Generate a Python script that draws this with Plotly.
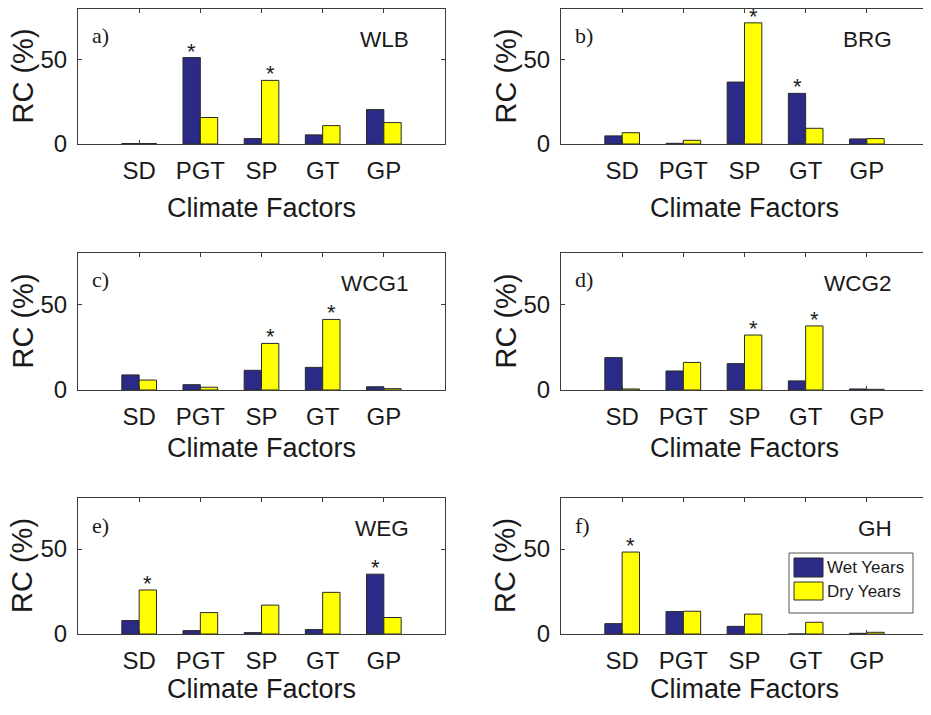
import plotly.graph_objects as go
from plotly.subplots import make_subplots

factors = ["SD", "PGT", "SP", "GT", "GP"]
stations = ["WLB", "BRG", "WCG1", "WCG2", "WEG", "GH"]
panel_tags = ["a)", "b)", "c)", "d)", "e)", "f)"]

wlb_wet = [0.3, 51.2, 3.2, 5.4, 20.4]
wlb_dry = [0.3, 15.7, 37.7, 10.9, 12.7]
brg_wet = [4.8, 0.4, 36.7, 30.0, 3.0]
brg_dry = [6.7, 2.2, 71.8, 9.3, 3.2]
wcg1_wet = [8.8, 3.1, 11.5, 13.2, 1.9]
wcg1_dry = [5.8, 1.6, 27.2, 41.2, 0.8]
wcg2_wet = [18.9, 11.1, 15.4, 5.3, 0.6]
wcg2_dry = [0.6, 16.1, 32.1, 37.4, 0.4]
weg_wet = [7.9, 2.0, 0.8, 2.6, 35.2]
weg_dry = [25.9, 12.6, 17.0, 24.5, 9.7]
gh_wet = [6.1, 13.2, 4.5, 0.0, 0.4]
gh_dry = [48.2, 13.4, 11.7, 6.9, 1.0]

# significance markers (1 = significant "*")
wlb_wet_sig = [0, 1, 0, 0, 0]
wlb_dry_sig = [0, 0, 1, 0, 0]
brg_wet_sig = [0, 0, 0, 1, 0]
brg_dry_sig = [0, 0, 1, 0, 0]
wcg1_wet_sig = [0, 0, 0, 0, 0]
wcg1_dry_sig = [0, 0, 1, 1, 0]
wcg2_wet_sig = [0, 0, 0, 0, 0]
wcg2_dry_sig = [0, 0, 1, 1, 0]
weg_wet_sig = [0, 0, 0, 0, 1]
weg_dry_sig = [1, 0, 0, 0, 0]
gh_wet_sig = [0, 0, 0, 0, 0]
gh_dry_sig = [1, 0, 0, 0, 0]

y_ticks = [0, 50]
y_range = [0, 80]

wet_list = [wlb_wet, brg_wet, wcg1_wet, wcg2_wet, weg_wet, gh_wet]
dry_list = [wlb_dry, brg_dry, wcg1_dry, wcg2_dry, weg_dry, gh_dry]
wet_sig_list = [wlb_wet_sig, brg_wet_sig, wcg1_wet_sig, wcg2_wet_sig, weg_wet_sig, gh_wet_sig]
dry_sig_list = [wlb_dry_sig, brg_dry_sig, wcg1_dry_sig, wcg2_dry_sig, weg_dry_sig, gh_dry_sig]

# page offset of the plot div (default body margin) and figure size
OFF = 8
W, H = 923, 699
WET_COLOR = "#2b2a86"
DRY_COLOR = "#ffff00"
EDGE = "#2a2a2a"
AXC = "#3c3c3c"
FONT = "Liberation Sans, Arial, sans-serif"
SERIF = "Liberation Serif, Times New Roman, serif"
TXT = "#1a1a1a"

# page-pixel layout of axes boxes
col_px = [(78, 445), (561, 928)]
row_px = [(9, 144), (253, 390), (498, 634)]
cf_y_px = [208, 448, 689]

BARGAP = 0.433
bar_w = (1 - BARGAP) / 2

def px(xp):
    return (xp - OFF) / W

def py(yp):
    return 1 - (yp - OFF) / H

fig = make_subplots(rows=3, cols=2)
xs = list(range(1, len(factors) + 1))
annotations = []

for k in range(6):
    r, c = divmod(k, 2)
    idx = k + 1
    xa = "x" if idx == 1 else f"x{idx}"
    ya = "y" if idx == 1 else f"y{idx}"
    fig.add_trace(go.Bar(x=xs, y=wet_list[k], name="Wet Years",
                         marker=dict(color=WET_COLOR, line=dict(color=EDGE, width=1)),
                         showlegend=False), row=r + 1, col=c + 1)
    fig.add_trace(go.Bar(x=xs, y=dry_list[k], name="Dry Years",
                         marker=dict(color=DRY_COLOR, line=dict(color=EDGE, width=1)),
                         showlegend=False), row=r + 1, col=c + 1)
    (x0, x1), (y0, y1) = col_px[c], row_px[r]
    fig.update_xaxes(domain=[px(x0), min(px(x1), 1.0)], range=[0, 6], tickvals=xs,
                     ticktext=factors,
                     ticks="inside", ticklen=4, tickcolor=AXC, showline=True, linecolor=AXC,
                     linewidth=1.2, mirror="ticks", showgrid=False, zeroline=False,
                     automargin=False,
                     tickfont=dict(family=FONT, size=24, color=TXT), ticklabelstandoff=5,
                     row=r + 1, col=c + 1)
    fig.update_yaxes(domain=[py(y1), py(y0)], range=y_range, tickvals=y_ticks,
                     ticks="inside", ticklen=4, tickcolor=AXC, showline=True, linecolor=AXC,
                     linewidth=1.2, mirror="ticks", showgrid=False, zeroline=False,
                     automargin=False,
                     tickfont=dict(family=FONT, size=24, color=TXT), ticklabelstandoff=5,
                     row=r + 1, col=c + 1)
    # significance stars
    for i in range(len(factors)):
        if wet_sig_list[k][i]:
            annotations.append(dict(x=xs[i] - bar_w / 2, y=wet_list[k][i], xref=xa, yref=ya,
                                    text="*", showarrow=False, yanchor="bottom", yshift=-8,
                                    font=dict(family=FONT, size=22, color=TXT)))
        if dry_sig_list[k][i]:
            annotations.append(dict(x=xs[i] + bar_w / 2, y=dry_list[k][i], xref=xa, yref=ya,
                                    text="*", showarrow=False, yanchor="bottom", yshift=-8,
                                    font=dict(family=FONT, size=22, color=TXT)))
    # panel tag and station name
    annotations.append(dict(x=px(x0 + 12), y=py(y0 + 27), xref="paper", yref="paper",
                            text=panel_tags[k], showarrow=False, xanchor="left", yanchor="middle",
                            font=dict(family=SERIF, size=22, color=TXT)))
    annotations.append(dict(x=px(x1 - 34), y=py(y0 + 30), xref="paper", yref="paper",
                            text=stations[k], showarrow=False, xanchor="right", yanchor="middle",
                            font=dict(family=FONT, size=22.5, color=TXT)))
    # axis titles
    annotations.append(dict(x=px(x0 - 56), y=py((y0 + y1) / 2), xref="paper", yref="paper",
                            text="RC (%)", showarrow=False, textangle=-90,
                            xanchor="center", yanchor="middle",
                            font=dict(family=FONT, size=29, color=TXT)))
    annotations.append(dict(x=px((x0 + x1) / 2), y=py(cf_y_px[r]), xref="paper", yref="paper",
                            text="Climate Factors", showarrow=False,
                            xanchor="center", yanchor="middle",
                            font=dict(family=FONT, size=27, color=TXT)))

# custom legend in panel f
shapes = []
lx0, ly0, lx1, ly1 = 789, 553, 913, 613
shapes.append(dict(type="rect", xref="paper", yref="paper", x0=px(lx0), x1=px(lx1),
                   y0=py(ly1), y1=py(ly0), line=dict(color="#555555", width=1),
                   fillcolor="white", layer="above"))
legend_items = [("Wet Years", WET_COLOR, 558, 577), ("Dry Years", DRY_COLOR, 582, 600)]
for label, col, sy0, sy1 in legend_items:
    shapes.append(dict(type="rect", xref="paper", yref="paper", x0=px(794), x1=px(823),
                       y0=py(sy1), y1=py(sy0), line=dict(color=EDGE, width=1),
                       fillcolor=col, layer="above"))
    annotations.append(dict(x=px(825), y=py((sy0 + sy1) / 2), xref="paper", yref="paper",
                            text=label, showarrow=False, xanchor="left", yanchor="middle",
                            font=dict(family=FONT, size=17, color=TXT)))

fig.update_layout(width=W, height=H, margin=dict(l=0, r=0, t=0, b=0),
                  paper_bgcolor="white", plot_bgcolor="white",
                  barmode="group", bargap=BARGAP, bargroupgap=0,
                  annotations=annotations, shapes=shapes, showlegend=False)

fig.write_html("out.html")
